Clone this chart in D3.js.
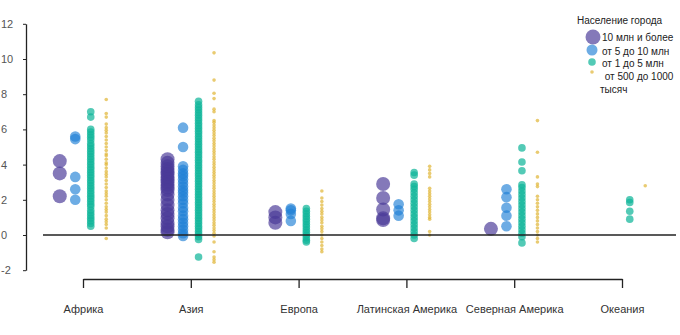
<!DOCTYPE html>
<html><head><meta charset="utf-8">
<script src="https://cdn.jsdelivr.net/npm/d3@7"></script>
<style>
body{margin:0;background:#fff;}
svg{display:block;font-family:"Liberation Sans",Arial,sans-serif;}
</style></head>
<body><svg id="c" width="680" height="335"></svg>
<script>
const regions = ["Африка","Азия","Европа","Латинская Америка","Северная Америка","Океания"];
const seriesNames = ["10 млн и более","от 5 до 10 млн","от 1 до 5 млн","от 500 до 1000"];
const yTicks = [-2,0,2,4,6,8,10,12];

// values per region, per series
const big = [
  [4.2,3.5,2.2],
  [4.3,4.1,3.9,3.75,3.6,3.45,3.3,3.15,3.0,2.85,2.7,2.55,2.3,2.0,1.7,1.4,1.2,0.95,0.7,0.5,0.3,0.15],
  [1.3,1.0,0.7],
  [2.9,2.1,1.45,0.95,0.85],
  [0.35],
  []
];
const mid = [
  [5.6,5.45,3.3,2.6,2.0],
  [6.1,5.0,3.9,3.7,3.5,3.35,3.15,2.95,2.75,2.55,2.4,2.2,2.0,1.8,1.55,1.35,1.1,0.9,0.7,0.5,0.3,0.1,-0.05],
  [1.5,1.4,1.2,0.8],
  [1.75,1.4,1.1],
  [2.6,2.15,1.55,1.1,0.5],
  []
];
const small = [
  [7.0,6.7,6.0,5.85,5.7,5.55,5.4,5.2,5.05,4.9,4.75,4.6,4.45,4.3,4.15,4.0,3.85,3.7,3.55,3.4,3.25,3.1,2.95,2.8,2.65,2.5,2.35,2.2,2.05,1.9,1.75,1.6,1.4,1.25,1.1,0.95,0.8,0.65,0.5],
  [7.6,7.4,7.25,7.1,6.95,6.8,6.65,6.5,6.35,6.2,6.05,5.9,5.75,5.6,5.45,5.3,5.15,5.0,4.85,4.7,4.55,4.4,4.25,4.1,3.95,3.8,3.65,3.5,3.35,3.2,3.05,2.9,2.75,2.6,2.45,2.3,2.15,2.0,1.85,1.7,1.55,1.4,1.25,1.1,0.95,0.8,0.65,0.5,0.35,0.2,0.05,-0.1,-0.25,-1.25],
  [1.5,1.35,1.2,1.05,0.9,0.75,0.6,0.45,0.3,0.15,0.0,-0.15,-0.3,-0.4],
  [3.55,3.4,2.9,2.75,2.6,2.4,2.2,2.0,1.8,1.6,1.4,1.2,1.0,0.8,0.6,0.4,0.2,0.0,-0.2],
  [4.95,4.15,3.65,2.85,2.7,2.5,2.3,2.1,1.9,1.7,1.5,1.3,1.1,0.9,0.7,0.5,0.3,0.1,-0.1,-0.45],
  [2.0,1.85,1.35,0.9]
];
const tiny = [
  [7.7,6.9,6.7,6.3,6.1,5.95,5.8,5.6,5.4,5.2,5.0,4.8,4.6,4.5,4.3,4.1,4.0,3.8,3.6,3.45,3.3,3.1,2.9,2.7,2.5,2.35,2.2,2.0,1.8,1.6,1.45,1.3,1.1,0.9,0.75,0.6,0.4,-0.2],
  [10.35,8.8,8.05,7.75,7.15,7.0,6.5,6.4,6.25,6.1,5.95,5.8,5.65,5.5,5.35,5.2,5.05,4.9,4.75,4.6,4.45,4.3,4.15,4.0,3.85,3.7,3.55,3.4,3.25,3.1,2.95,2.8,2.65,2.5,2.35,2.2,2.05,1.9,1.75,1.6,1.45,1.3,1.15,1.0,0.85,0.7,0.55,0.4,0.25,0.1,-0.05,-0.4,-0.95,-1.25,-1.4,-1.55],
  [2.5,2.1,1.9,1.7,1.5,1.35,1.2,1.0,0.85,0.7,0.5,0.35,0.2,0.0,-0.2,-0.4,-0.6,-0.8,-0.95],
  [3.9,3.7,3.5,3.3,2.65,2.5,2.35,2.2,2.05,1.9,1.75,1.6,1.45,1.3,1.15,1.0,0.9,0.2,0.0],
  [6.5,4.7,3.3,2.9,2.75,2.2,2.0,1.8,1.6,1.4,1.2,1.0,0.8,0.6,0.4,0.2,0.0,-0.2,-0.4],
  [2.8]
];
const seriesValues = [big, mid, small, tiny];
const colors = ["#4a3a98","#1f7fd6","#10b59a","#e0b534"];
const opac = [0.68,0.65,0.72,0.7];
const radii = [7,5.3,3.8,1.8];

const svg = d3.select("#c");
const y = d3.scaleLinear().domain([-2,12]).range([270.2,23.8]);
const x = d3.scalePoint().domain(regions).range([83,622]);
const off = d3.scalePoint().domain(seriesNames).range([-23.25,23.25]);

// y axis
const ya = svg.append("g").attr("transform","translate(26,0)")
  .call(d3.axisLeft(y).tickValues(yTicks).tickSize(3).tickSizeOuter(0).tickFormat(d=>String(d)));
ya.select(".domain").attr("stroke","#222").attr("stroke-width",1.3);
ya.selectAll(".tick line").attr("stroke","#222");
ya.selectAll(".tick text").attr("text-anchor","start").attr("x",-25).attr("fill","#555")
  .style("font-size","11px").style("font-family","'Liberation Sans',Arial,sans-serif");

// x axis
const xa = svg.append("g").attr("transform","translate(0,279)")
  .call(d3.axisBottom(x).tickSize(9).tickSizeOuter(0).tickPadding(17));
xa.select(".domain").attr("stroke","#222").attr("stroke-width",1.3);
xa.selectAll(".tick line").attr("stroke","#222").attr("stroke-width",1.3);
xa.selectAll(".tick text").attr("fill","#333").style("font-size","11px")
  .style("font-family","'Liberation Sans',Arial,sans-serif");

// points
seriesNames.forEach((s,si)=>{
  const pts = [];
  regions.forEach((r,ri)=>{ seriesValues[si][ri].forEach(v=>pts.push({r,v})); });
  svg.append("g").selectAll("circle").data(pts).join("circle")
    .attr("cx",d=>x(d.r)+off(s)).attr("cy",d=>y(d.v)).attr("r",radii[si])
    .attr("fill",colors[si]).attr("fill-opacity",opac[si]);
});

// zero line
svg.append("line").attr("x1",43).attr("x2",676).attr("y1",y(0)).attr("y2",y(0))
  .attr("stroke","#222").attr("stroke-width",1.3);

// legend
const lg = svg.append("g").style("font-size","10px").attr("fill","#222");
lg.append("text").attr("x",577).attr("y",24).text("Население города");
const legY = [37,50,62,72];
const legTextY = [41,55,67,80];
const legLabels = ["10 млн и более","от 5 до 10 млн","от 1 до 5 млн"," от 500 до 1000"];
seriesNames.forEach((s,i)=>{
  lg.append("circle").attr("cx",i===0?593:592).attr("cy",legY[i]).attr("r",[7.5,5.5,3.8,1.8][i])
    .attr("fill",colors[i]).attr("fill-opacity",opac[i]);
  lg.append("text").attr("x",602).attr("y",legTextY[i]).style("white-space","pre").text(legLabels[i]);
});
lg.append("text").attr("x",600).attr("y",93).text("тысяч");
</script></body></html>
